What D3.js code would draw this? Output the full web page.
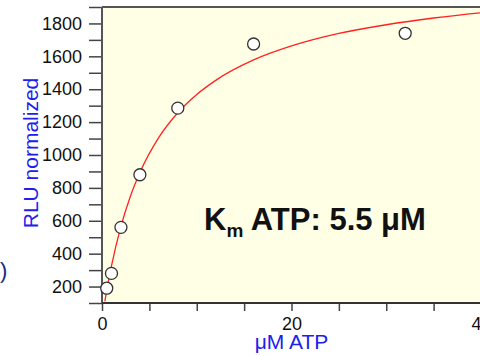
<!DOCTYPE html>
<html>
  <head>
    <script src="https://d3js.org/d3.v7.min.js"></script>
    <style>
      body { margin: 0; background: #fff; }
      text { font-family: "Liberation Sans", Arial, sans-serif; }
    </style>
  </head>
  <body>
    <svg width="480" height="356"></svg>
    <script>
      // measured points (uM ATP, RLU normalized)
      const atp = [0.5, 1, 2, 4, 8, 16, 32];
      const rlu = [190, 280, 560, 880, 1285, 1675, 1740];

      // fitted curve
      const fitX = [0.3, 0.5, 1, 2, 3, 4, 6, 8, 10, 12, 16, 20, 25, 30, 35, 40, 42];
      const fitY = [110, 177, 326, 566, 749, 893, 1107, 1257, 1368, 1454, 1578, 1663, 1739, 1792, 1833, 1865, 1876];

      const yTicks = d3.range(100, 1901, 100);
      const yLabels = [200, 400, 600, 800, 1000, 1200, 1400, 1600, 1800];
      const xTicks = d3.range(0, 41, 5);
      const xLabels = [0, 20, 40];

      const svg = d3.select("svg");

      const x = d3.scaleLinear().domain([0, 40]).range([102, 481]);
      const y = d3.scaleLinear().domain([100, 1900]).range([303, 7]);

      svg.append("clipPath").attr("id", "clip")
        .append("rect")
          .attr("x", x(0)).attr("y", y(1900))
          .attr("width", x(40) - x(0)).attr("height", y(100) - y(1900));

      svg.append("rect")
        .attr("x", x(0)).attr("y", y(1900))
        .attr("width", 400).attr("height", y(100) - y(1900))
        .attr("fill", "#ffffe6");

      const yAxis = svg.append("g")
        .attr("transform", `translate(${x(0)},0)`)
        .call(d3.axisLeft(y).tickValues(yTicks).tickSize(13).tickPadding(7)
          .tickFormat(d => yLabels.includes(d) ? d : ""));
      yAxis.select(".domain").remove();
      yAxis.selectAll("line").attr("stroke", "#444").attr("stroke-width", 1.5);
      yAxis.selectAll("text").attr("font-size", 18).attr("fill", "#111")
        .attr("font-family", "Liberation Sans, Arial, sans-serif");

      const xAxis = svg.append("g")
        .attr("transform", `translate(0,${y(100)})`)
        .call(d3.axisBottom(x).tickValues(xTicks).tickSize(8).tickPadding(6)
          .tickFormat(d => xLabels.includes(d) ? d : ""));
      xAxis.select(".domain").remove();
      xAxis.selectAll("line").attr("stroke", "#444").attr("stroke-width", 1.5);
      xAxis.selectAll("text").attr("font-size", 18).attr("fill", "#111")
        .attr("font-family", "Liberation Sans, Arial, sans-serif");

      // frame lines
      svg.append("line")
        .attr("x1", x(0)).attr("x2", x(0)).attr("y1", y(1900)).attr("y2", y(100))
        .attr("stroke", "#555").attr("stroke-width", 2);
      svg.append("line")
        .attr("x1", x(0)).attr("x2", 480).attr("y1", y(1900)).attr("y2", y(1900))
        .attr("stroke", "#555").attr("stroke-width", 2);
      svg.append("line")
        .attr("x1", x(0)).attr("x2", 480).attr("y1", y(100)).attr("y2", y(100))
        .attr("stroke", "#333").attr("stroke-width", 2);

      const line = d3.line()
        .x(i => x(fitX[i]))
        .y(i => y(fitY[i]))
        .curve(d3.curveMonotoneX);

      svg.append("path")
        .attr("clip-path", "url(#clip)")
        .attr("d", line(d3.range(fitX.length)))
        .attr("fill", "none")
        .attr("stroke", "#ff2222")
        .attr("stroke-width", 1.3);

      svg.selectAll("circle.pt")
        .data(atp)
        .join("circle")
          .attr("class", "pt")
          .attr("cx", d => x(d))
          .attr("cy", (d, i) => y(rlu[i]))
          .attr("r", 6)
          .attr("fill", "#fff")
          .attr("stroke", "#333")
          .attr("stroke-width", 1.3);

      svg.append("text")
        .attr("transform", "translate(38,153) rotate(-90)")
        .attr("text-anchor", "middle")
        .attr("font-size", 21)
        .attr("fill", "#2020ee")
        .text("RLU normalized");

      svg.append("text")
        .attr("x", x(20)).attr("y", 349)
        .attr("text-anchor", "middle")
        .attr("font-size", 21)
        .attr("fill", "#2020ee")
        .text("μM ATP");

      svg.append("text")
        .attr("x", 0).attr("y", 278)
        .attr("font-size", 22)
        .attr("fill", "#1a2a7a")
        .text(")");

      const km = svg.append("text")
        .attr("x", 204).attr("y", 230)
        .attr("font-size", 31)
        .attr("font-weight", "bold")
        .attr("fill", "#111");
      km.append("tspan").text("K");
      km.append("tspan").attr("font-size", 19).attr("dy", 7).text("m");
      km.append("tspan").attr("dy", -7).text(" ATP: 5.5 μM");
    </script>
  </body>
</html>
